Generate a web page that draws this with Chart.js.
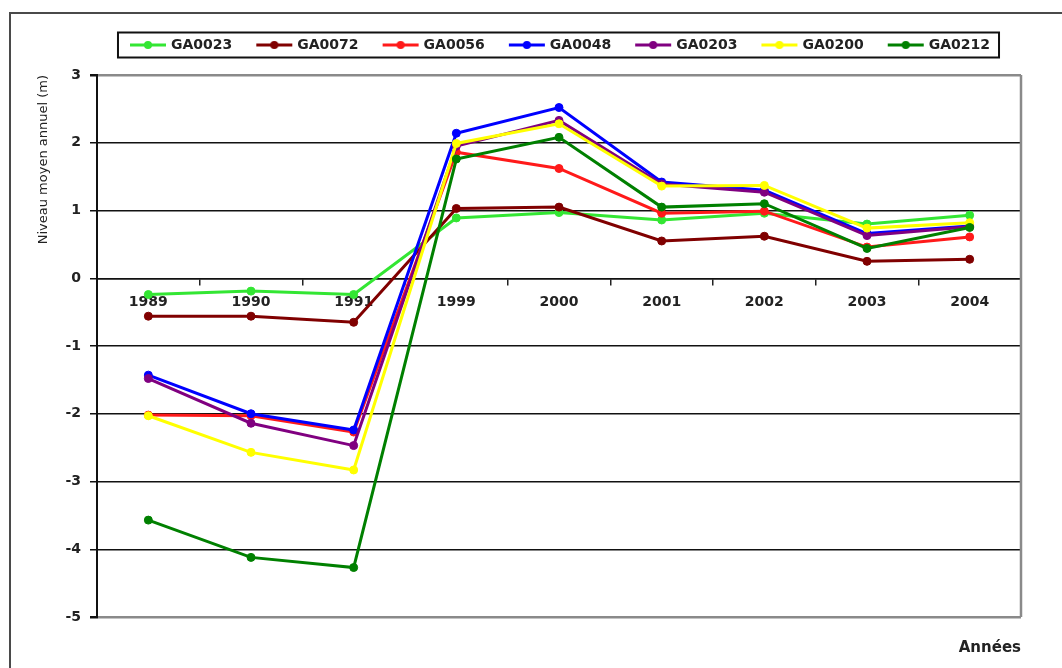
<!DOCTYPE html>
<html>
<head>
<meta charset="utf-8">
<script src="https://cdn.jsdelivr.net/npm/chart.js@4.4.1/dist/chart.umd.min.js"></script>
<style>
  html, body { margin: 0; padding: 0; background: #fff; overflow: hidden; }
  #wrap { position: relative; width: 1062px; height: 668px; }
  #frame { position: absolute; left: 9px; top: 12px; width: 1100px; height: 700px;
           border-top: 2px solid #4a4a4a; border-left: 2px solid #4a4a4a; pointer-events: none; }
  canvas { position: absolute; left: 0; top: 0; }
</style>
</head>
<body>
<div id="wrap">
  <canvas id="chart" width="1062" height="668"></canvas>
  <div id="frame"></div>
</div>
<script>
// Annual mean water level per well (m)
const years = ['1989', '1990', '1991', '1999', '2000', '2001', '2002', '2003', '2004'];

const ga0023 = [-0.24, -0.19, -0.24, 0.89, 0.97, 0.86, 0.96, 0.80, 0.93];
const ga0072 = [-0.56, -0.56, -0.65, 1.03, 1.05, 0.55, 0.62, 0.25, 0.28];
const ga0056 = [-2.02, -2.03, -2.27, 1.86, 1.62, 0.96, 0.99, 0.46, 0.61];
const ga0048 = [-1.43, -2.00, -2.24, 2.14, 2.52, 1.42, 1.30, 0.66, 0.77];
const ga0203 = [-1.48, -2.14, -2.47, 1.95, 2.33, 1.39, 1.27, 0.63, 0.76];
const ga0200 = [-2.03, -2.57, -2.83, 1.99, 2.28, 1.36, 1.37, 0.74, 0.82];
const ga0212 = [-3.57, -4.12, -4.27, 1.76, 2.08, 1.05, 1.10, 0.44, 0.75];

const seriesNames = ['GA0023', 'GA0072', 'GA0056', 'GA0048', 'GA0203', 'GA0200', 'GA0212'];
const seriesValues = [ga0023, ga0072, ga0056, ga0048, ga0203, ga0200, ga0212];
const seriesColors = ['#33e633', '#800000', '#ff1a1a', '#0000ff', '#800080', '#ffff00', '#008000'];

const yTicks = { min: -5, max: 3, step: 1 };

const FONT = "'DejaVu Sans', Arial, sans-serif";

// Legend symbol: short line with a round marker
function legendIcon(color) {
  const c = document.createElement('canvas');
  c.width = 42; c.height = 12;
  const g = c.getContext('2d');
  g.strokeStyle = color; g.lineWidth = 3;
  g.beginPath(); g.moveTo(5, 6); g.lineTo(41, 6); g.stroke();
  g.fillStyle = color;
  g.beginPath(); g.arc(23, 6, 4, 0, Math.PI * 2); g.fill();
  return c;
}
const icons = seriesColors.map(legendIcon);

// Frame around the legend and right edge of the plot area
const decorations = {
  id: 'decorations',
  beforeDatasetsDraw(chart) {
    const { ctx, chartArea: a } = chart;
    ctx.save();
    ctx.strokeStyle = '#8a8a8a';
    ctx.lineWidth = 2.5;
    ctx.beginPath();
    ctx.moveTo(a.right, a.top);
    ctx.lineTo(a.right, a.bottom);
    ctx.stroke();
    ctx.restore();
  },
  afterDraw(chart) {
    const lg = chart.legend;
    if (!lg || !lg.legendHitBoxes.length) return;
    const hb = lg.legendHitBoxes;
    const first = hb[0], last = hb[hb.length - 1];
    const x0 = first.left - 10;
    const x1 = last.left + last.width + 9;
    const cy = first.top + first.height / 2;
    const ctx = chart.ctx;
    ctx.save();
    ctx.strokeStyle = '#111';
    ctx.lineWidth = 2;
    ctx.strokeRect(x0, cy - 12.5, x1 - x0, 25);
    ctx.restore();
  }
};

const datasets = seriesNames.map((name, i) => ({
  label: name,
  data: seriesValues[i],
  borderColor: seriesColors[i],
  backgroundColor: seriesColors[i],
  pointBackgroundColor: seriesColors[i],
  pointBorderColor: seriesColors[i],
  borderWidth: 3,
  pointRadius: 4,
  pointBorderWidth: 1,
  tension: 0,
  fill: false,
  order: seriesNames.length - i
}));

new Chart(document.getElementById('chart'), {
  type: 'line',
  data: { labels: years, datasets },
  plugins: [decorations],
  options: {
    responsive: false,
    animation: false,
    devicePixelRatio: 1,
    layout: { padding: { top: 16, right: 41, bottom: 11, left: 0 } },
    plugins: {
      tooltip: { enabled: false },
      legend: {
        position: 'top',
        fullSize: false,
        align: 'center',
        labels: {
          usePointStyle: true,
          pointStyleWidth: 36,
          padding: 22,
          color: '#222',
          font: { family: FONT, size: 14, weight: 'bold' },
          generateLabels(chart) {
            const items = Chart.defaults.plugins.legend.labels.generateLabels(chart);
            items.sort((a, b) => a.datasetIndex - b.datasetIndex);
            items.forEach(it => { it.pointStyle = icons[it.datasetIndex]; });
            return items;
          }
        }
      },
      subtitle: {
        display: true,
        text: ' ',
        position: 'top',
        weight: 500,
        font: { size: 10, lineHeight: 1 },
        padding: { top: 3, bottom: 0 }
      },
      title: {
        display: true,
        text: 'Années',
        position: 'bottom',
        align: 'end',
        color: '#222',
        font: { family: FONT, size: 15, weight: 'bold', lineHeight: 1.2 },
        padding: { top: 22, bottom: 0 }
      }
    },
    scales: {
      x: {
        type: 'category',
        position: { y: 0 },
        offset: true,
        grid: {
          offset: true,
          drawOnChartArea: false,
          drawTicks: true,
          tickLength: 6,
          color: '#222',
          lineWidth: 1.5
        },
        border: { display: true, color: '#111', width: 1.5 },
        ticks: {
          padding: 10,
          autoSkip: false,
          maxRotation: 0,
          color: '#222',
          font: { family: FONT, size: 14, weight: 'bold' }
        }
      },
      y: {
        min: yTicks.min,
        max: yTicks.max,
        afterFit(scale) { scale.width = 97; },
        ticks: {
          stepSize: yTicks.step,
          padding: 9,
          color: '#222',
          font: { family: FONT, size: 14, weight: 'bold' }
        },
        grid: {
          color: c => (c.tick && (c.tick.value === yTicks.max || c.tick.value === yTicks.min)) ? '#8a8a8a' : '#111',
          lineWidth: c => (c.tick && (c.tick.value === yTicks.max || c.tick.value === yTicks.min)) ? 2.5 : 1.5,
          tickColor: '#111',
          tickLength: 7
        },
        border: { display: true, color: '#111', width: 2 },
        title: {
          display: true,
          text: 'Niveau moyen annuel (m)',
          align: 'end',
          color: '#222',
          font: { family: FONT, size: 13 },
          padding: { top: 36, bottom: 0 }
        }
      }
    }
  }
});
</script>
</body>
</html>
